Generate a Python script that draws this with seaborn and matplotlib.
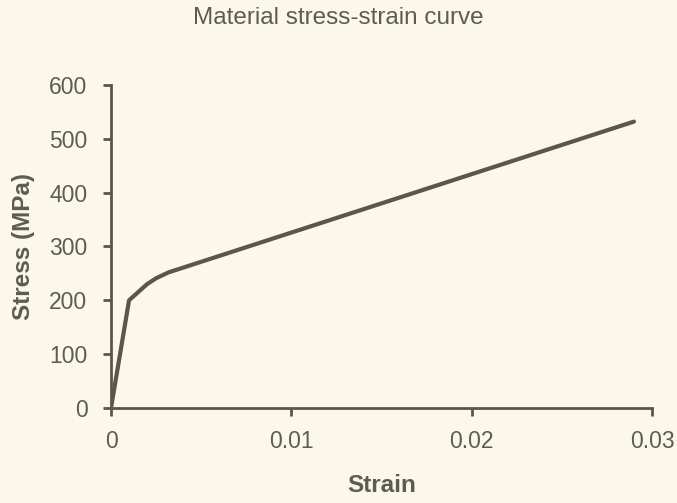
import seaborn as sns
import pandas as pd
import matplotlib.pyplot as plt

sns.set_theme(style="ticks")
plt.rcParams['font.family'] = ['Liberation Sans', 'DejaVu Sans']

# Curve points
strain = [0.0, 0.001, 0.0015, 0.002, 0.0025, 0.0032, 0.029]
stress = [0, 200, 215, 230, 241, 252, 532]

df = pd.DataFrame({'Strain': strain, 'Stress (MPa)': stress})

bg = '#FBF8EA'
ink = '#5A5649'
text = '#5E5B52'

fig = plt.figure(figsize=(6.77, 5.03), dpi=100, facecolor=bg)
ax = fig.add_axes([0.164, 0.189, 0.799, 0.642], facecolor=bg)

sns.lineplot(data=df, x='Strain', y='Stress (MPa)', color=ink, linewidth=3,
             sort=False, ax=ax)

ax.set_xlim(0, 0.03)
ax.set_ylim(0, 600)
ax.set_xticks([0, 0.01, 0.02, 0.03])
ax.set_xticklabels(['0', '0.01', '0.02', '0.03'])
ax.set_yticks(range(0, 601, 100))

sns.despine(ax=ax)
for side in ['left', 'bottom']:
    ax.spines[side].set_color(ink)
    ax.spines[side].set_linewidth(2)
ax.tick_params(axis='both', colors=ink, length=6, width=2,
               labelsize=16.5, labelcolor=text)
ax.tick_params(axis='y', pad=11)
ax.tick_params(axis='x', pad=10)

ax.set_xlabel('Strain', fontsize=17.5, fontweight='bold', color=text, labelpad=15)
ax.set_ylabel('Stress (MPa)', fontsize=17.5, fontweight='bold', color=text, labelpad=10)
fig.suptitle('Material stress-strain curve', fontsize=17.5, color=text, y=0.987)

fig.savefig('out.png', dpi=100, facecolor=bg)
